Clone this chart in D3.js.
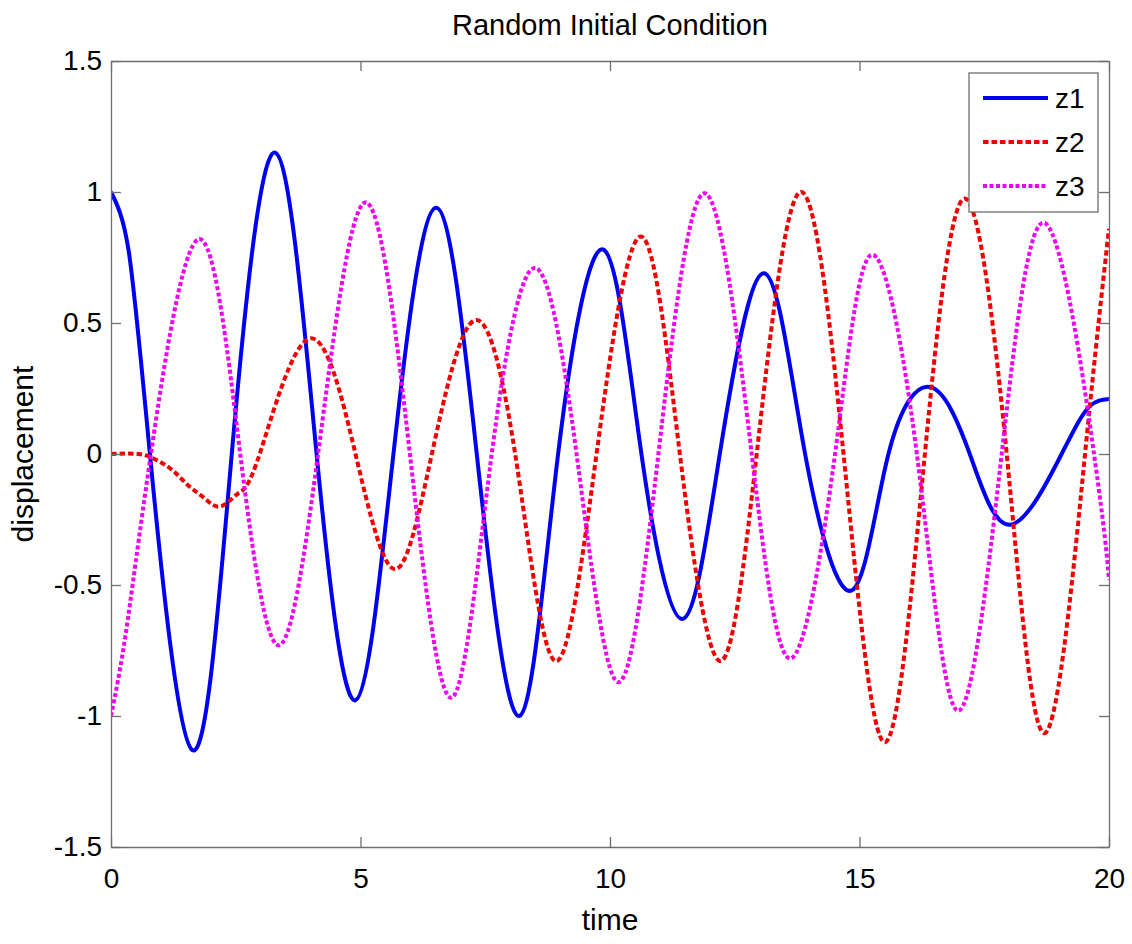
<!DOCTYPE html>
<html>
<head>
<meta charset="utf-8">
<script src="https://cdn.jsdelivr.net/npm/d3@7"></script>
<style>
  html, body { margin: 0; padding: 0; background: #fff; }
  svg { display: block; font-family: "Liberation Sans", Arial, sans-serif; }
  .axis path, .axis line { stroke: #6e6e6e; stroke-width: 1.3; }
  .axis text { fill: #000; font-size: 28px; }
</style>
</head>
<body>
<div id="chart"></div>
<script>
// ── Data (time, displacement) ───────────────────────────────────────────────
const z1Time = [0, 0.35, 0.78, 1.63, 2.42, 3.29, 4.12, 4.9, 5.66, 6.51, 7.33, 8.18, 8.96, 9.87,
                10.63, 11.45, 12.2, 13.09, 13.91, 14.85, 15.58, 16.43, 17.21, 18.02, 19.05, 19.6, 20];
const z1Val  = [1.0, 0.78, 0, -1.13, 0, 1.15, 0, -0.94, 0, 0.94, 0, -1.0, 0, 0.78,
                0, -0.63, 0, 0.69, 0, -0.52, 0, 0.255, 0, -0.27, 0, 0.18, 0.21];

const z2Time = [0, 0.55, 0.88, 1.22, 1.55, 1.88, 2.2, 2.55, 2.98, 3.97, 4.9, 5.69,
                6.43, 7.28, 8.1, 8.9, 9.73, 10.62, 11.4, 12.2, 12.94, 13.81, 14.68, 15.51,
                16.31, 17.11, 17.95, 18.72, 19.52, 20];
const z2Val  = [0, 0, -0.02, -0.06, -0.12, -0.17, -0.2, -0.15, 0, 0.44, 0, -0.44,
                0, 0.51, 0, -0.79, 0, 0.83, 0, -0.79, 0, 1.0, 0, -1.1,
                0, 0.975, 0, -1.065, 0, 0.86];

const z3Time = [0, 0.3, 0.8, 1.76, 2.59, 3.35, 4.15, 5.09, 5.99, 6.83, 7.63, 8.5, 9.33, 10.15,
                10.97, 11.9, 12.84, 13.63, 14.51, 15.24, 16.15, 16.97, 17.85, 18.73, 19.7, 20];
const z3Val  = [-1.0, -0.68, 0, 0.82, 0, -0.73, 0, 0.96, 0, -0.93, 0, 0.71, 0, -0.87,
                0, 0.995, 0, -0.78, 0, 0.76, 0, -0.98, 0, 0.88, 0, -0.48];

const xTicks = [0, 5, 10, 15, 20];
const yTicks = [-1.5, -1, -0.5, 0, 0.5, 1, 1.5];
const seriesNames = ['z1', 'z2', 'z3'];

// ── Styles per series ───────────────────────────────────────────────────────
const styles = {
  z1: { color: '#0000f0', dash: null },
  z2: { color: '#f00000', dash: '5.5,3' },
  z3: { color: '#f000f0', dash: '4,2.5' }
};

// ── Layout ──────────────────────────────────────────────────────────────────
const W = 1132, H = 944;
const margin = { top: 61, right: 23, bottom: 97, left: 111 };
const iw = W - margin.left - margin.right;
const ih = H - margin.top - margin.bottom;

const svg = d3.select('#chart').append('svg')
  .attr('width', W)
  .attr('height', H);

const g = svg.append('g').attr('transform', `translate(${margin.left},${margin.top})`);

const x = d3.scaleLinear().domain([0, 20]).range([0, iw]);
const y = d3.scaleLinear().domain([-1.5, 1.5]).range([ih, 0]);

const fmt = d => String(d);

// clip so lines stay inside the box
g.append('clipPath').attr('id', 'clip')
  .append('rect').attr('width', iw).attr('height', ih);

// ── Lines ───────────────────────────────────────────────────────────────────
const line = d3.line()
  .x(d => x(d[0]))
  .y(d => y(d[1]))
  .curve(d3.curveNatural);

const series = [
  { name: 'z1', pts: d3.zip(z1Time, z1Val) },
  { name: 'z2', pts: d3.zip(z2Time, z2Val) },
  { name: 'z3', pts: d3.zip(z3Time, z3Val) }
];

g.append('g').attr('clip-path', 'url(#clip)')
  .selectAll('path')
  .data(series)
  .enter().append('path')
  .attr('d', d => line(d.pts))
  .attr('fill', 'none')
  .attr('stroke', d => styles[d.name].color)
  .attr('stroke-width', 4)
  .attr('stroke-dasharray', d => styles[d.name].dash);

// ── Axes (MATLAB style: inward ticks, boxed) ────────────────────────────────
g.append('g').attr('class', 'axis')
  .attr('transform', `translate(0,${ih})`)
  .call(d3.axisBottom(x).tickValues(xTicks).tickFormat(fmt).tickSize(-10).tickSizeOuter(0).tickPadding(21));

g.append('g').attr('class', 'axis')
  .call(d3.axisTop(x).tickValues(xTicks).tickFormat('').tickSize(-10).tickSizeOuter(0));

g.append('g').attr('class', 'axis')
  .call(d3.axisLeft(y).tickValues(yTicks).tickFormat(fmt).tickSize(-10).tickSizeOuter(0).tickPadding(9));

g.append('g').attr('class', 'axis')
  .attr('transform', `translate(${iw},0)`)
  .call(d3.axisRight(y).tickValues(yTicks).tickFormat('').tickSize(-10).tickSizeOuter(0));

g.selectAll('.axis text').attr('font-family', null);

// ── Titles ──────────────────────────────────────────────────────────────────
svg.append('text')
  .attr('x', margin.left + iw / 2)
  .attr('y', 35)
  .attr('text-anchor', 'middle')
  .attr('font-size', 29)
  .text('Random Initial Condition');

svg.append('text')
  .attr('x', margin.left + iw / 2)
  .attr('y', 930)
  .attr('text-anchor', 'middle')
  .attr('font-size', 30)
  .text('time');

svg.append('text')
  .attr('transform', `translate(33,${margin.top + ih / 2}) rotate(-90)`)
  .attr('text-anchor', 'middle')
  .attr('font-size', 30)
  .text('displacement');

// ── Legend ──────────────────────────────────────────────────────────────────
const legend = svg.append('g').attr('transform', 'translate(969,73)');
legend.append('rect')
  .attr('width', 129).attr('height', 139)
  .attr('fill', '#fff')
  .attr('stroke', '#6e6e6e')
  .attr('stroke-width', 1.3);

seriesNames.forEach((name, i) => {
  const cy = 25 + i * 44;
  legend.append('line')
    .attr('x1', 14).attr('x2', 79)
    .attr('y1', cy).attr('y2', cy)
    .attr('stroke', styles[name].color)
    .attr('stroke-width', 4)
    .attr('stroke-dasharray', styles[name].dash);
  legend.append('text')
    .attr('x', 86).attr('y', cy)
    .attr('dy', '0.36em')
    .attr('font-size', 28)
    .text(name);
});
</script>
</body>
</html>
